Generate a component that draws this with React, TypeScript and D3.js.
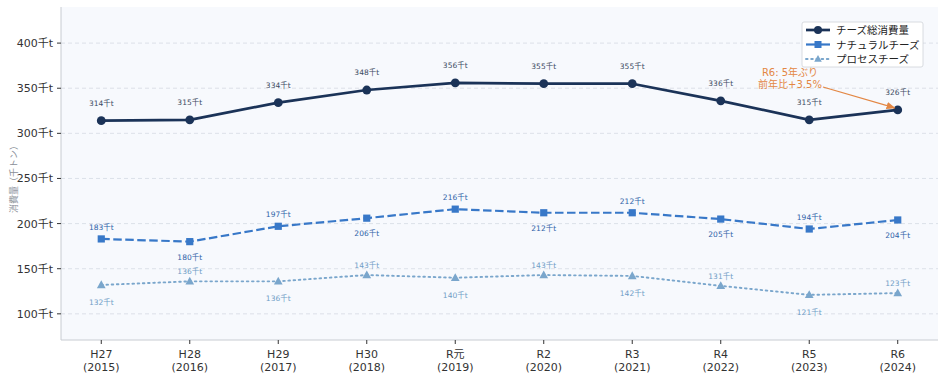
import React from 'react';
import * as d3 from 'd3';

const years = ['H27\n(2015)', 'H28\n(2016)', 'H29\n(2017)', 'H30\n(2018)', 'R元\n(2019)', 'R2\n(2020)', 'R3\n(2021)', 'R4\n(2022)', 'R5\n(2023)', 'R6\n(2024)'];
const totalValues = [314, 315, 334, 348, 356, 355, 355, 336, 315, 326];
const naturalValues = [183, 180, 197, 206, 216, 212, 212, 205, 194, 204];
const processValues = [132, 136, 136, 143, 140, 143, 142, 131, 121, 123];
// which labels sit above the point (true) or below (false)
const naturalAbove = [true, false, true, false, true, false, true, false, true, false];
const processAbove = [false, true, false, true, false, true, false, true, false, true];
const yTicks = [100, 150, 200, 250, 300, 350, 400];

const W = 945;
const H = 381;
const FONT = '"DejaVu Sans", "Noto Sans CJK JP", sans-serif';

const plot = { left: 61, right: 938, top: 7, bottom: 340 };

const App: React.FC = () => {
  const x = d3.scalePoint<string>().domain(years).range([plot.left, plot.right]).padding(0.455);
  const y = d3.scaleLinear().domain([71, 440]).range([plot.bottom, plot.top]);

  const line = d3.line<number>()
    .x((_, i) => x(years[i]) as number)
    .y(d => y(d));

  const totalColor = '#1b3358';
  const naturalColor = '#3878c8';
  const processColor = '#7aa6cc';

  const tri = (cx: number, cy: number, s: number) =>
    `M${cx},${cy - s} L${cx + s * 0.95},${cy + s * 0.7} L${cx - s * 0.95},${cy + s * 0.7} Z`;

  const last = years.length - 1;
  const arrowEnd = { x: (x(years[last]) as number) - 3, y: y(totalValues[last]) - 2 };

  return (
    <svg width={W} height={H} style={{ position: 'absolute', left: 0, top: 0 }} fontFamily={FONT}>
      <defs>
        <marker id="arrowhead" viewBox="0 0 10 10" refX="9" refY="5" markerWidth="7" markerHeight="7" orient="auto">
          <path d="M0,1 L10,5 L0,9 Z" fill="#e38744" />
        </marker>
      </defs>
      <rect x={0} y={0} width={W} height={H} fill="#ffffff" />
      <rect x={plot.left} y={plot.top} width={plot.right - plot.left} height={plot.bottom - plot.top} fill="#f7f9fd" />

      {/* grid */}
      {yTicks.map(t => (
        <line key={t} x1={plot.left} x2={plot.right} y1={y(t)} y2={y(t)}
          stroke="#d6dbe3" strokeWidth={0.8} strokeDasharray="4,3" />
      ))}

      {/* spines */}
      <line x1={plot.left} x2={plot.left} y1={plot.top} y2={plot.bottom} stroke="#c8ccd2" strokeWidth={1} />
      <line x1={plot.left} x2={plot.right} y1={plot.bottom} y2={plot.bottom} stroke="#c8ccd2" strokeWidth={1} />

      {/* y ticks */}
      {yTicks.map(t => (
        <g key={t}>
          <line x1={plot.left - 4} x2={plot.left} y1={y(t)} y2={y(t)} stroke="#333" strokeWidth={1} />
          <text x={plot.left - 8} y={y(t) + 4} textAnchor="end" fontSize={11} fill="#333">{t}千t</text>
        </g>
      ))}

      {/* x ticks */}
      {years.map(yr => {
        const [a, b] = yr.split('\n');
        const px = x(yr) as number;
        return (
          <g key={yr}>
            <line x1={px} x2={px} y1={plot.bottom} y2={plot.bottom + 4} stroke="#333" strokeWidth={1} />
            <text x={px} y={358} textAnchor="middle" fontSize={11} fill="#333">{a}</text>
            <text x={px} y={371} textAnchor="middle" fontSize={11} fill="#333">{b}</text>
          </g>
        );
      })}

      <text transform={`translate(17,177) rotate(-90)`} textAnchor="middle" fontSize={9} fill="#8a8f98">消費量（千トン）</text>

      {/* process cheese */}
      <path d={line(processValues) || ''} fill="none" stroke={processColor} strokeWidth={1.9}
        strokeDasharray="1.6,3.6" strokeLinecap="round" />
      {processValues.map((v, i) => (
        <path key={i} d={tri(x(years[i]) as number, y(v), 4.6)} fill={processColor} />
      ))}
      {processValues.map((v, i) => (
        <text key={i} x={x(years[i]) as number} y={processAbove[i] ? y(v) - 7 : y(v) + 20}
          textAnchor="middle" fontSize={7.5} fill="#6f9dc6">{v}千t</text>
      ))}

      {/* natural cheese */}
      <path d={line(naturalValues) || ''} fill="none" stroke={naturalColor} strokeWidth={2.2}
        strokeDasharray="8.5,3.5" />
      {naturalValues.map((v, i) => (
        <rect key={i} x={(x(years[i]) as number) - 3.6} y={y(v) - 3.6} width={7.2} height={7.2} fill={naturalColor} />
      ))}
      {naturalValues.map((v, i) => (
        <text key={i} x={x(years[i]) as number} y={naturalAbove[i] ? y(v) - 9 : y(v) + 18}
          textAnchor="middle" fontSize={7.5} fill="#2d62a8">{v}千t</text>
      ))}

      {/* total */}
      <path d={line(totalValues) || ''} fill="none" stroke={totalColor} strokeWidth={2.7} strokeLinejoin="round" />
      {totalValues.map((v, i) => (
        <circle key={i} cx={x(years[i]) as number} cy={y(v)} r={4.4} fill={totalColor} />
      ))}
      {totalValues.map((v, i) => (
        <text key={i} x={x(years[i]) as number} y={y(v) - 15}
          textAnchor="middle" fontSize={7.5} fill="#3b4a62">{v}千t</text>
      ))}

      {/* annotation */}
      <line x1={823} y1={87} x2={arrowEnd.x} y2={arrowEnd.y} stroke="#e38744" strokeWidth={1.3} markerEnd="url(#arrowhead)" />
      <text x={790} y={76} textAnchor="middle" fontSize={10} fill="#e38744">R6: 5年ぶり</text>
      <text x={790} y={88} textAnchor="middle" fontSize={10} fill="#e38744">前年比+3.5%</text>

      {/* legend */}
      <g>
        <rect x={802} y={22} width={121} height={45} rx={2} fill="#ffffff" stroke="#cfd3d8" strokeWidth={0.8} />
        <line x1={806} x2={830} y1={30} y2={30} stroke={totalColor} strokeWidth={2.7} />
        <circle cx={818} cy={30} r={4} fill={totalColor} />
        <text x={836} y={34} fontSize={10.5} fill="#222">チーズ総消費量</text>

        <line x1={806} x2={830} y1={44.5} y2={44.5} stroke={naturalColor} strokeWidth={2.2} />
        <rect x={814.5} y={41} width={7} height={7} fill={naturalColor} />
        <text x={836} y={48.5} fontSize={10.5} fill="#222">ナチュラルチーズ</text>

        <line x1={806} x2={830} y1={59} y2={59} stroke={processColor} strokeWidth={1.9} strokeDasharray="1.6,3.6" strokeLinecap="round" />
        <path d={tri(818, 59, 4)} fill={processColor} />
        <text x={836} y={63} fontSize={10.5} fill="#222">プロセスチーズ</text>
      </g>
    </svg>
  );
};

export default App;
